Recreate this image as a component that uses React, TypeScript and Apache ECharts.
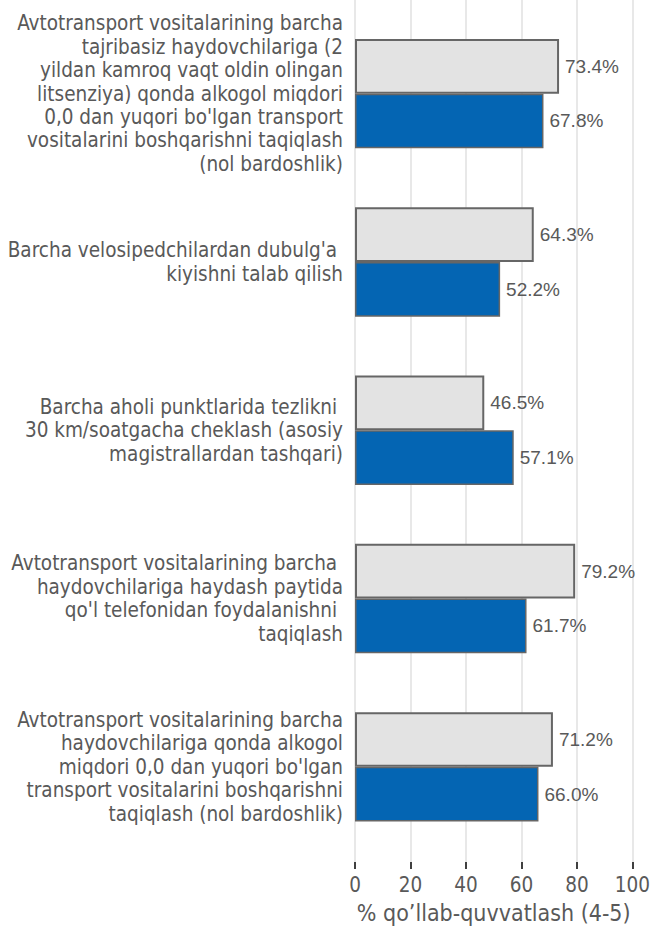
import React, { useEffect, useRef } from "react";
import * as echarts from "echarts";

const categories = [
  "Avtotransport vositalarining barcha\ntajribasiz haydovchilariga (2\nyildan kamroq vaqt oldin olingan\nlitsenziya) qonda alkogol miqdori\n0,0 dan yuqori bo'lgan transport\nvositalarini boshqarishni taqiqlash\n(nol bardoshlik)",
  "Barcha velosipedchilardan dubulg'a \nkiyishni talab qilish",
  "Barcha aholi punktlarida tezlikni \n30 km/soatgacha cheklash (asosiy\nmagistrallardan tashqari)",
  "Avtotransport vositalarining barcha \nhaydovchilariga haydash paytida\nqo'l telefonidan foydalanishni \ntaqiqlash",
  "Avtotransport vositalarining barcha\nhaydovchilariga qonda alkogol\nmiqdori 0,0 dan yuqori bo'lgan\ntransport vositalarini boshqarishni\ntaqiqlash (nol bardoshlik)",
];
const greyValues = [73.4, 64.3, 46.5, 79.2, 71.2];
const blueValues = [67.8, 52.2, 57.1, 61.7, 66.0];
const xTicks = [0, 20, 40, 60, 80, 100];
const axisTitle = "% qo\u2019llab-quvvatlash (4-5)";

const FONT = "DejaVu Sans Condensed, DejaVu Sans, sans-serif";
const VFONT = "Liberation Sans, Arial, sans-serif";
const TXT = "#595959";

export default function App() {
  const ref = useRef<HTMLDivElement>(null);
  useEffect(() => {
    if (!ref.current) return;
    const chart = echarts.init(ref.current, undefined, { renderer: "svg" });
    const left = 355;
    const right = 653 - 633;
    const valueLabel = {
      show: true,
      position: "right",
      distance: 6,
      color: TXT,
      fontSize: 19,
      fontFamily: VFONT,
      formatter: (p: any) => p.value.toFixed(1) + "%",
    };
    chart.setOption({
      animation: false,
      textStyle: { fontFamily: FONT },
      grid: [
        { left, right, top: 0, height: 865 },
        { left, right, top: 9.5, height: 841.5 },
      ],
      xAxis: [
        {
          gridIndex: 0,
          type: "value",
          min: xTicks[0],
          max: xTicks[xTicks.length - 1],
          interval: 20,
          offset: 3,
          axisLine: { show: false },
          axisTick: { show: true, length: 7, lineStyle: { color: "#404040", width: 2 } },
          splitLine: { show: true, lineStyle: { color: "#e0e0e0", width: 1.5 } },
          axisLabel: { color: TXT, fontSize: 20.5, fontFamily: FONT, margin: 9 },
          name: axisTitle,
          nameLocation: "middle",
          nameGap: 36,
          nameTextStyle: { color: TXT, fontSize: 23, fontFamily: FONT },
        },
        {
          gridIndex: 1,
          type: "value",
          min: 0,
          max: 100,
          show: false,
        },
      ],
      yAxis: [
        { gridIndex: 0, type: "value", show: false },
        {
          gridIndex: 1,
          type: "category",
          inverse: true,
          data: categories,
          axisLine: { show: false },
          axisTick: { show: false },
          splitLine: { show: false },
          axisLabel: {
            color: TXT,
            fontSize: 20.5,
            fontFamily: FONT,
            lineHeight: 23.4,
            align: "right",
            margin: 12,
          },
        },
      ],
      series: [
        {
          type: "bar",
          xAxisIndex: 1,
          yAxisIndex: 1,
          data: greyValues,
          barGap: "0%",
          barCategoryGap: "35%",
          itemStyle: { color: "#e3e3e3", borderColor: "#666666", borderWidth: 2 },
          label: valueLabel,
        },
        {
          type: "bar",
          xAxisIndex: 1,
          yAxisIndex: 1,
          data: blueValues,
          barGap: "0%",
          barCategoryGap: "35%",
          itemStyle: { color: "#0465b3", borderColor: "#666666", borderWidth: 1.5 },
          label: valueLabel,
        },
      ],
    });
    return () => chart.dispose();
  }, []);
  return (
    <div
      ref={ref}
      style={{ position: "fixed", left: 0, top: 0, width: 653, height: 929, background: "#fff" }}
    />
  );
}
